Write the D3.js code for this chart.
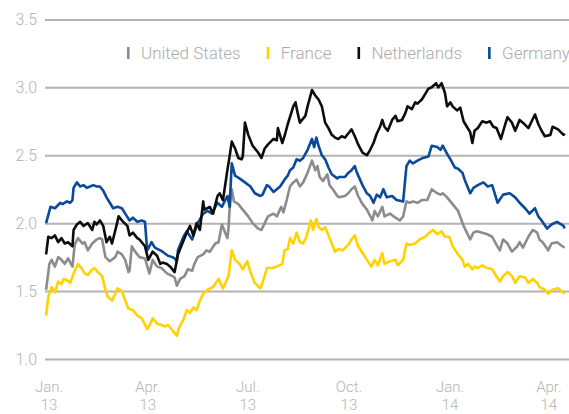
<!DOCTYPE html>
<html lang="en">
<head>
<meta charset="UTF-8">
<script src="https://d3js.org/d3.v7.min.js"></script>
<style>
    body { margin: 0; background: #fff; }
    svg { display: block; font-family: Roboto, "Noto Sans", sans-serif; }
</style>
</head>
<body>
<div id="chart"></div>
<script>
// ten-year government bond yields, %
const seriesNames = ["United States", "France", "Netherlands", "Germany"];
const seriesColors = ["#8c8c8c", "#ffd200", "#0d0d0d", "#0b4a9b"];
const yTicks = [1.0, 1.5, 2.0, 2.5, 3.0, 3.5];
const xTickDates = ["2013-01-01", "2013-04-01", "2013-07-01", "2013-10-01", "2014-01-01", "2014-04-01"];
const xTickLabels = [["Jan.", "13"], ["Apr.", "13"], ["Jul.", "13"], ["Oct.", "13"], ["Jan.", "14"], ["Apr.", "14"]];

const usData = [
["2013-01-02",1.51],["2013-01-05",1.70],["2013-01-07",1.73],["2013-01-10",1.68],["2013-01-13",1.75],["2013-01-16",1.73],["2013-01-19",1.70],["2013-01-22",1.74],["2013-01-26",1.68],["2013-01-28",1.84],["2013-01-31",1.89],["2013-02-04",1.85],["2013-02-06",1.86],["2013-02-09",1.80],["2013-02-13",1.85],["2013-02-17",1.88],["2013-02-20",1.89],["2013-02-22",1.88],["2013-02-25",1.75],["2013-03-01",1.72],["2013-03-06",1.75],["2013-03-08",1.79],["2013-03-12",1.77],["2013-03-15",1.73],["2013-03-18",1.64],["2013-03-19",1.65],["2013-03-21",1.83],["2013-03-24",1.79],["2013-03-28",1.75],["2013-04-02",1.74],["2013-04-06",1.63],["2013-04-09",1.73],["2013-04-13",1.68],["2013-04-17",1.67],["2013-04-22",1.63],["2013-04-27",1.61],["2013-04-29",1.60],["2013-05-01",1.54],["2013-05-04",1.59],["2013-05-08",1.61],["2013-05-11",1.66],["2013-05-15",1.65],["2013-05-17",1.70],["2013-05-20",1.75],["2013-05-25",1.77],["2013-05-28",1.80],["2013-05-31",1.79],["2013-06-05",1.85],["2013-06-08",1.86],["2013-06-11",1.99],["2013-06-16",1.89],["2013-06-17",1.96],["2013-06-18",2.10],["2013-06-20",2.25],["2013-06-22",2.16],["2013-06-26",2.14],["2013-06-30",2.10],["2013-07-05",2.05],["2013-07-09",2.00],["2013-07-14",1.96],["2013-07-17",1.95],["2013-07-20",2.00],["2013-07-23",2.05],["2013-07-28",2.07],["2013-07-31",2.05],["2013-08-04",2.12],["2013-08-06",2.08],["2013-08-09",2.17],["2013-08-12",2.27],["2013-08-15",2.30],["2013-08-18",2.32],["2013-08-21",2.27],["2013-08-24",2.30],["2013-08-28",2.37],["2013-09-01",2.46],["2013-09-04",2.39],["2013-09-06",2.42],["2013-09-08",2.34],["2013-09-11",2.31],["2013-09-15",2.36],["2013-09-17",2.28],["2013-09-20",2.25],["2013-09-24",2.20],["2013-09-26",2.19],["2013-10-01",2.20],["2013-10-04",2.22],["2013-10-07",2.25],["2013-10-10",2.27],["2013-10-13",2.20],["2013-10-17",2.14],["2013-10-21",2.10],["2013-10-26",2.02],["2013-10-28",2.09],["2013-10-31",2.05],["2013-11-04",2.12],["2013-11-06",2.05],["2013-11-11",2.07],["2013-11-16",2.04],["2013-11-20",2.02],["2013-11-23",2.05],["2013-11-26",2.16],["2013-11-29",2.15],["2013-12-02",2.16],["2013-12-06",2.15],["2013-12-10",2.17],["2013-12-15",2.17],["2013-12-19",2.25],["2013-12-24",2.22],["2013-12-27",2.21],["2013-12-29",2.22],["2014-01-02",2.19],["2014-01-05",2.16],["2014-01-09",2.12],["2014-01-12",2.09],["2014-01-17",1.98],["2014-01-20",1.93],["2014-01-23",1.88],["2014-01-26",1.93],["2014-01-29",1.94],["2014-02-03",1.93],["2014-02-07",1.92],["2014-02-12",1.90],["2014-02-16",1.84],["2014-02-19",1.80],["2014-02-22",1.88],["2014-02-26",1.85],["2014-03-02",1.79],["2014-03-07",1.83],["2014-03-09",1.86],["2014-03-12",1.82],["2014-03-17",1.90],["2014-03-21",1.95],["2014-03-25",1.93],["2014-03-27",1.88],["2014-03-30",1.86],["2014-04-04",1.80],["2014-04-07",1.85],["2014-04-12",1.86],["2014-04-17",1.83],["2014-04-19",1.82]
];

const franceData = [
["2013-01-02",1.32],["2013-01-04",1.46],["2013-01-07",1.53],["2013-01-10",1.49],["2013-01-13",1.57],["2013-01-16",1.55],["2013-01-18",1.59],["2013-01-21",1.58],["2013-01-24",1.56],["2013-01-27",1.63],["2013-01-31",1.70],["2013-02-04",1.66],["2013-02-06",1.63],["2013-02-09",1.62],["2013-02-13",1.66],["2013-02-15",1.67],["2013-02-18",1.64],["2013-02-22",1.61],["2013-02-25",1.51],["2013-02-27",1.46],["2013-03-03",1.43],["2013-03-06",1.48],["2013-03-08",1.52],["2013-03-12",1.50],["2013-03-15",1.43],["2013-03-18",1.37],["2013-03-22",1.36],["2013-03-26",1.32],["2013-03-30",1.30],["2013-04-04",1.22],["2013-04-07",1.26],["2013-04-09",1.30],["2013-04-13",1.26],["2013-04-17",1.25],["2013-04-20",1.24],["2013-04-23",1.25],["2013-04-27",1.21],["2013-05-01",1.17],["2013-05-03",1.23],["2013-05-07",1.29],["2013-05-10",1.36],["2013-05-13",1.34],["2013-05-16",1.38],["2013-05-19",1.36],["2013-05-22",1.43],["2013-05-25",1.48],["2013-05-29",1.51],["2013-06-03",1.53],["2013-06-08",1.59],["2013-06-12",1.52],["2013-06-17",1.61],["2013-06-20",1.80],["2013-06-23",1.73],["2013-06-27",1.70],["2013-06-30",1.66],["2013-07-04",1.72],["2013-07-07",1.64],["2013-07-11",1.56],["2013-07-16",1.52],["2013-07-18",1.56],["2013-07-22",1.67],["2013-07-27",1.67],["2013-07-31",1.68],["2013-08-05",1.70],["2013-08-07",1.80],["2013-08-10",1.81],["2013-08-12",1.89],["2013-08-15",1.85],["2013-08-18",1.93],["2013-08-21",1.86],["2013-08-24",1.85],["2013-08-27",1.90],["2013-08-31",2.02],["2013-09-02",1.95],["2013-09-05",2.03],["2013-09-07",1.97],["2013-09-10",1.95],["2013-09-13",1.97],["2013-09-16",1.91],["2013-09-19",1.85],["2013-09-22",1.79],["2013-09-25",1.81],["2013-09-29",1.80],["2013-10-04",1.84],["2013-10-07",1.88],["2013-10-10",1.91],["2013-10-13",1.83],["2013-10-17",1.78],["2013-10-21",1.73],["2013-10-25",1.68],["2013-10-28",1.73],["2013-10-31",1.69],["2013-11-04",1.78],["2013-11-06",1.70],["2013-11-11",1.72],["2013-11-16",1.73],["2013-11-18",1.69],["2013-11-23",1.73],["2013-11-26",1.85],["2013-11-29",1.84],["2013-12-04",1.85],["2013-12-08",1.88],["2013-12-13",1.90],["2013-12-17",1.93],["2013-12-20",1.95],["2013-12-24",1.92],["2013-12-28",1.94],["2013-12-31",1.90],["2014-01-04",1.90],["2014-01-07",1.83],["2014-01-12",1.77],["2014-01-16",1.73],["2014-01-18",1.68],["2014-01-21",1.70],["2014-01-25",1.66],["2014-01-27",1.68],["2014-01-30",1.67],["2014-02-03",1.69],["2014-02-07",1.67],["2014-02-12",1.66],["2014-02-15",1.62],["2014-02-19",1.57],["2014-02-22",1.61],["2014-02-26",1.64],["2014-03-02",1.61],["2014-03-05",1.56],["2014-03-09",1.61],["2014-03-14",1.60],["2014-03-17",1.56],["2014-03-21",1.59],["2014-03-25",1.56],["2014-03-27",1.53],["2014-04-01",1.51],["2014-04-04",1.48],["2014-04-08",1.51],["2014-04-13",1.52],["2014-04-19",1.48]
];

const netherlandsData = [
["2013-01-02",1.77],["2013-01-04",1.90],["2013-01-07",1.89],["2013-01-10",1.91],["2013-01-13",1.86],["2013-01-16",1.89],["2013-01-19",1.85],["2013-01-22",1.86],["2013-01-26",1.83],["2013-01-27",1.95],["2013-01-30",1.99],["2013-02-02",2.01],["2013-02-05",1.98],["2013-02-09",2.00],["2013-02-13",1.95],["2013-02-15",2.01],["2013-02-17",1.99],["2013-02-20",2.02],["2013-02-23",1.98],["2013-02-26",1.86],["2013-03-01",1.90],["2013-03-03",1.85],["2013-03-07",1.98],["2013-03-09",2.05],["2013-03-13",2.01],["2013-03-17",1.98],["2013-03-19",1.91],["2013-03-22",1.93],["2013-03-26",1.89],["2013-03-28",1.88],["2013-04-02",1.83],["2013-04-05",1.73],["2013-04-09",1.79],["2013-04-13",1.76],["2013-04-16",1.70],["2013-04-18",1.71],["2013-04-22",1.70],["2013-04-25",1.68],["2013-04-29",1.64],["2013-05-02",1.77],["2013-05-06",1.85],["2013-05-10",1.93],["2013-05-13",1.98],["2013-05-16",1.91],["2013-05-19",2.00],["2013-05-22",1.95],["2013-05-25",2.16],["2013-05-26",2.10],["2013-05-31",2.12],["2013-06-03",2.07],["2013-06-07",2.20],["2013-06-09",2.22],["2013-06-12",2.17],["2013-06-16",2.39],["2013-06-18",2.49],["2013-06-20",2.60],["2013-06-23",2.55],["2013-06-26",2.48],["2013-06-29",2.47],["2013-06-30",2.49],["2013-07-02",2.74],["2013-07-05",2.65],["2013-07-09",2.57],["2013-07-14",2.52],["2013-07-17",2.48],["2013-07-20",2.55],["2013-07-23",2.58],["2013-07-28",2.62],["2013-07-31",2.61],["2013-08-01",2.70],["2013-08-05",2.59],["2013-08-07",2.64],["2013-08-10",2.73],["2013-08-15",2.86],["2013-08-17",2.89],["2013-08-19",2.81],["2013-08-21",2.74],["2013-08-23",2.76],["2013-08-26",2.79],["2013-08-28",2.86],["2013-09-01",2.98],["2013-09-04",2.94],["2013-09-07",2.91],["2013-09-10",2.86],["2013-09-13",2.74],["2013-09-16",2.70],["2013-09-19",2.65],["2013-09-22",2.63],["2013-09-25",2.62],["2013-09-28",2.64],["2013-10-01",2.63],["2013-10-04",2.66],["2013-10-07",2.69],["2013-10-10",2.64],["2013-10-13",2.58],["2013-10-17",2.52],["2013-10-21",2.50],["2013-10-24",2.54],["2013-10-27",2.59],["2013-10-30",2.66],["2013-11-02",2.71],["2013-11-04",2.76],["2013-11-06",2.71],["2013-11-09",2.68],["2013-11-13",2.76],["2013-11-16",2.79],["2013-11-18",2.75],["2013-11-22",2.76],["2013-11-25",2.81],["2013-11-27",2.86],["2013-12-01",2.84],["2013-12-04",2.89],["2013-12-06",2.88],["2013-12-10",2.91],["2013-12-13",2.95],["2013-12-16",2.99],["2013-12-19",3.00],["2013-12-23",3.03],["2013-12-25",3.00],["2013-12-28",3.03],["2013-12-31",2.96],["2014-01-02",2.86],["2014-01-05",2.89],["2014-01-07",2.86],["2014-01-11",2.83],["2014-01-14",2.85],["2014-01-17",2.75],["2014-01-20",2.71],["2014-01-23",2.67],["2014-01-25",2.59],["2014-01-27",2.68],["2014-01-30",2.70],["2014-02-03",2.75],["2014-02-07",2.74],["2014-02-10",2.75],["2014-02-13",2.71],["2014-02-16",2.70],["2014-02-20",2.62],["2014-02-24",2.73],["2014-02-26",2.78],["2014-03-02",2.74],["2014-03-05",2.68],["2014-03-09",2.76],["2014-03-12",2.74],["2014-03-17",2.70],["2014-03-20",2.75],["2014-03-23",2.80],["2014-03-26",2.73],["2014-03-29",2.68],["2014-04-01",2.64],["2014-04-06",2.65],["2014-04-08",2.71],["2014-04-13",2.69],["2014-04-18",2.65],["2014-04-19",2.66]
];

const germanyData = [
["2013-01-02",2.00],["2013-01-06",2.12],["2013-01-10",2.11],["2013-01-15",2.15],["2013-01-17",2.14],["2013-01-21",2.16],["2013-01-24",2.15],["2013-01-26",2.17],["2013-01-27",2.26],["2013-01-30",2.30],["2013-02-02",2.27],["2013-02-05",2.28],["2013-02-08",2.26],["2013-02-11",2.27],["2013-02-14",2.28],["2013-02-17",2.27],["2013-02-20",2.27],["2013-02-23",2.24],["2013-02-26",2.19],["2013-03-01",2.15],["2013-03-04",2.11],["2013-03-08",2.12],["2013-03-12",2.11],["2013-03-15",2.07],["2013-03-19",2.02],["2013-03-22",2.04],["2013-03-26",2.01],["2013-03-30",2.02],["2013-04-02",2.01],["2013-04-04",1.80],["2013-04-08",1.86],["2013-04-11",1.82],["2013-04-16",1.80],["2013-04-18",1.79],["2013-04-23",1.76],["2013-04-27",1.75],["2013-04-29",1.74],["2013-05-01",1.72],["2013-05-02",1.80],["2013-05-07",1.90],["2013-05-10",1.94],["2013-05-15",1.88],["2013-05-17",1.93],["2013-05-20",2.00],["2013-05-25",2.07],["2013-05-29",2.09],["2013-06-02",2.07],["2013-06-07",2.15],["2013-06-11",2.12],["2013-06-16",2.20],["2013-06-18",2.12],["2013-06-20",2.44],["2013-06-23",2.35],["2013-06-27",2.33],["2013-07-02",2.30],["2013-07-07",2.27],["2013-07-11",2.22],["2013-07-16",2.20],["2013-07-18",2.21],["2013-07-22",2.28],["2013-07-24",2.27],["2013-07-28",2.23],["2013-07-31",2.25],["2013-08-03",2.27],["2013-08-07",2.32],["2013-08-10",2.35],["2013-08-12",2.39],["2013-08-15",2.41],["2013-08-18",2.47],["2013-08-21",2.46],["2013-08-24",2.48],["2013-08-28",2.54],["2013-09-01",2.62],["2013-09-03",2.56],["2013-09-05",2.63],["2013-09-07",2.57],["2013-09-10",2.50],["2013-09-13",2.47],["2013-09-16",2.41],["2013-09-19",2.36],["2013-09-24",2.33],["2013-09-26",2.34],["2013-10-01",2.34],["2013-10-04",2.37],["2013-10-07",2.39],["2013-10-10",2.42],["2013-10-12",2.37],["2013-10-17",2.28],["2013-10-21",2.22],["2013-10-24",2.20],["2013-10-27",2.15],["2013-10-30",2.21],["2013-11-02",2.19],["2013-11-05",2.25],["2013-11-08",2.19],["2013-11-13",2.20],["2013-11-17",2.17],["2013-11-23",2.16],["2013-11-26",2.42],["2013-11-29",2.46],["2013-12-02",2.44],["2013-12-06",2.46],["2013-12-11",2.48],["2013-12-16",2.49],["2013-12-19",2.57],["2013-12-24",2.56],["2013-12-27",2.54],["2013-12-29",2.57],["2014-01-02",2.51],["2014-01-05",2.47],["2014-01-09",2.41],["2014-01-12",2.40],["2014-01-16",2.37],["2014-01-18",2.32],["2014-01-23",2.22],["2014-01-26",2.26],["2014-01-30",2.28],["2014-02-04",2.30],["2014-02-08",2.27],["2014-02-12",2.28],["2014-02-17",2.15],["2014-02-22",2.21],["2014-02-28",2.22],["2014-03-05",2.19],["2014-03-09",2.15],["2014-03-14",2.11],["2014-03-18",2.07],["2014-03-23",2.11],["2014-03-26",2.05],["2014-03-29",2.02],["2014-04-03",1.96],["2014-04-07",1.99],["2014-04-12",2.01],["2014-04-18",1.98],["2014-04-19",1.96]
];

const seriesData = [usData, franceData, netherlandsData, germanyData];
// netherlands last so it sits on top
const drawOrder = [0, 1, 3, 2];

const w = 569, h = 414;
const parse = d3.utcParse("%Y-%m-%d");

const x = d3.scaleUtc()
    .domain([parse("2013-01-01"), parse("2014-01-01")])
    .range([45, 446]);

const y = d3.scaleLinear()
    .domain([1.0, 3.5])
    .range([359, 19.4]);

const svg = d3.select("#chart")
    .append("svg")
    .attr("width", w)
    .attr("height", h);

// y axis + grid
const yAxis = d3.axisLeft(y)
    .tickValues(yTicks)
    .tickFormat(d3.format(".1f"))
    .tickSize(-(w - 45))
    .tickPadding(8);

const gy = svg.append("g")
    .attr("transform", "translate(45,0)")
    .call(yAxis);
gy.select(".domain").remove();
gy.selectAll(".tick line")
    .attr("stroke", "#b3b3b3")
    .attr("stroke-width", 2);
gy.selectAll(".tick text")
    .attr("fill", "#b3b3b3")
    .attr("font-size", "16px")
    .attr("font-weight", 300)
    .style("font-family", "Roboto, sans-serif");

// x labels, two lines each (month above year)
const xl = svg.append("g")
    .attr("fill", "#b3b3b3")
    .attr("font-size", "15px")
    .attr("font-weight", 300)
    .attr("text-anchor", "middle");

xTickDates.forEach((d, i) => {
    const px = x(parse(d)) + 4;
    xl.append("text").attr("x", px).attr("y", 392).text(xTickLabels[i][0]);
    xl.append("text").attr("x", px).attr("y", 410).text(xTickLabels[i][1]);
});

// lines
const line = d3.line()
    .x(d => x(parse(d[0])))
    .y(d => y(d[1]));

drawOrder.forEach(i => {
    svg.append("path")
        .datum(seriesData[i])
        .attr("fill", "none")
        .attr("stroke", seriesColors[i])
        .attr("stroke-width", 2.6)
        .attr("stroke-linejoin", "round")
        .attr("d", line);
});

// legend
const legend = svg.append("g");
let lx = 127;
seriesNames.forEach((name, i) => {
    legend.append("rect")
        .attr("x", lx)
        .attr("y", 47)
        .attr("width", 2.6)
        .attr("height", 12)
        .attr("fill", seriesColors[i]);
    const t = legend.append("text")
        .attr("x", lx + 14)
        .attr("y", 59)
        .attr("fill", "#ababab")
        .attr("font-size", "17px")
        .attr("font-weight", 300)
        .text(name);
    lx += 14 + t.node().getComputedTextLength() + 26;
});
</script>
</body>
</html>
